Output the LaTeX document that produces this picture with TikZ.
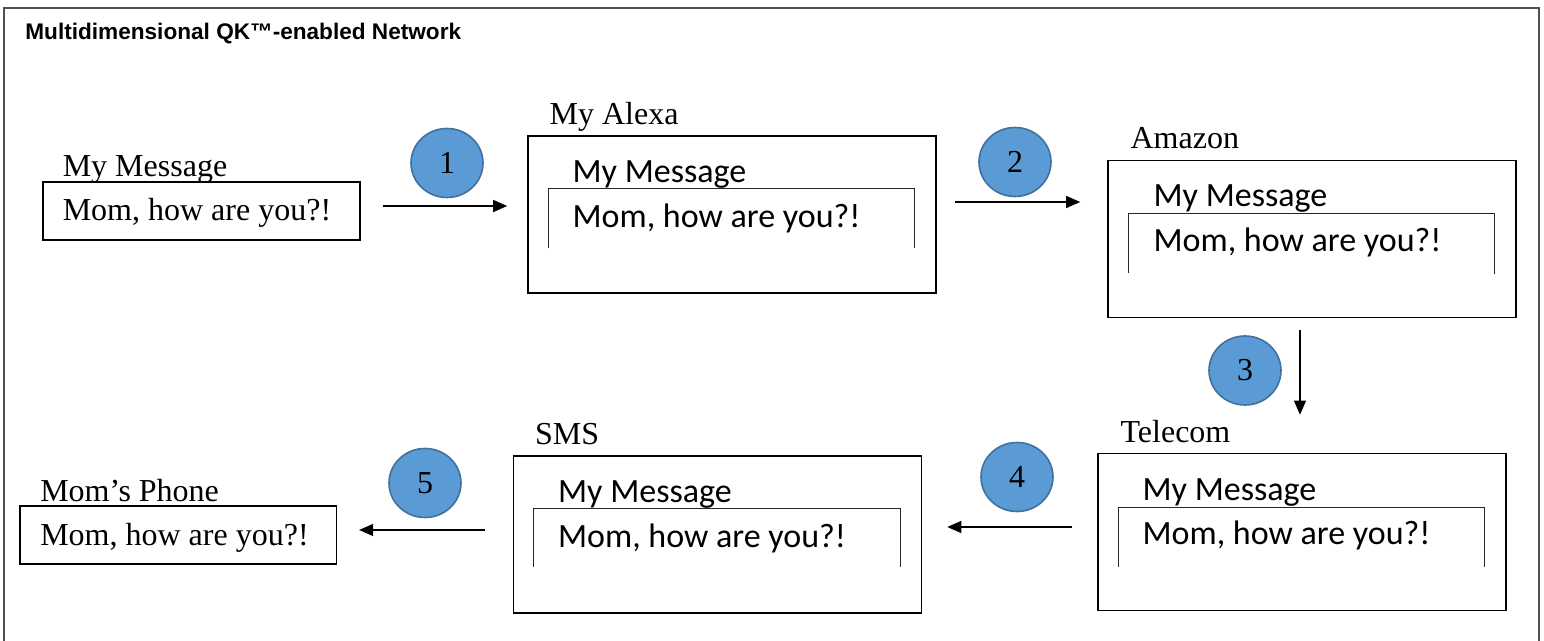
\documentclass[tikz,border=0pt]{standalone}
\usepackage{fontspec}
\setmainfont{Liberation Serif}
\newfontfamily\calibfont{Carlito}
\newfontfamily\headfont{Liberation Sans}
\usetikzlibrary{shapes.geometric, arrows.meta, positioning}
\definecolor{badgefill}{HTML}{5B9BD5}
\definecolor{badgeline}{HTML}{41719C}
\definecolor{framegray}{HTML}{505050}
\tikzset{
  device/.style={rectangle, draw=black, line width=0.8pt, minimum width=204pt, minimum height=78.5pt, inner sep=0pt},
  msgbox/.style={rectangle, draw=black, line width=0.8pt, minimum width=158.3pt, minimum height=29pt, inner sep=0pt},
  tag/.style={anchor=base west, inner sep=0pt, font=\fontsize{16}{19}\selectfont},
  inmsg/.style={anchor=base west, inner sep=0pt, font=\calibfont\fontsize{17}{20}\selectfont},
  pane/.style={draw=black!85, line width=0.6pt},
  badge/.style={ellipse, minimum width=36pt, minimum height=34.5pt, inner sep=0pt, fill=badgefill, draw=badgeline, line width=0.8pt, font=\fontsize{16}{19}\selectfont},
  arrow/.style={line width=0.6pt, -{Triangle[length=7pt,width=6pt]}}
}

\begin{document}
\begin{tikzpicture}[x=0.5pt, y=-0.5pt]
    \useasboundingbox (0,0) rectangle (1544,641);

    % outer frame, open at the bottom
    \draw[framegray, line width=1pt] (4,641) |- (1539,8) -- (1539,641);
    \node (title) [anchor=base west, inner sep=0pt, font=\headfont\bfseries\fontsize{11.3}{13}\selectfont] at (25,40) {Multidimensional QK™-enabled Network};

    % sender and receiver
    \node (msg) [msgbox] at (201.5,211) {};
    \node (msgL) [tag] at ([shift={(20,-5)}]msg.north west) {My Message};
    \node (msgT) [tag] at ([shift={(20,39)}]msg.north west) {Mom, how are you?!};
    \node (phone) [msgbox] at (178,535) {};
    \node (phoneL) [tag] at ([shift={(21,-4)}]phone.north west) {Mom’s Phone};
    \node (phoneT) [tag] at ([shift={(21,40)}]phone.north west) {Mom, how are you?!};

    % relays
    \node (alexa) [device] at (732,214.5) {};
    \node (amazon) [device] at (1312,239) {};
    \node (telecom) [device] at (1302,532) {};
    \node (sms) [device] at (717.5,534.5) {};

    \node (alexaL) [tag] at ([shift={(22,-11)}]alexa.north west) {My Alexa};
    \node (alexaH) [inmsg] at ([shift={(45,47)}]alexa.north west) {My Message};
    \node (alexaT) [inmsg] at ([shift={(45,92)}]alexa.north west) {Mom, how are you?!};
    \draw[pane] ([shift={(21,113)}]alexa.north west) |- ([shift={(-22,53)}]alexa.north east) -- ++(0,60);

    \node (amazonL) [tag] at ([shift={(23,-11)}]amazon.north west) {Amazon};
    \node (amazonH) [inmsg] at ([shift={(46,47)}]amazon.north west) {My Message};
    \node (amazonT) [inmsg] at ([shift={(46,92)}]amazon.north west) {Mom, how are you?!};
    \draw[pane] ([shift={(21,113)}]amazon.north west) |- ([shift={(-22,54)}]amazon.north east) -- ++(0,60);

    \node (telecomL) [tag] at ([shift={(23,-10)}]telecom.north west) {Telecom};
    \node (telecomH) [inmsg] at ([shift={(45,48)}]telecom.north west) {My Message};
    \node (telecomT) [inmsg] at ([shift={(45,92)}]telecom.north west) {Mom, how are you?!};
    \draw[pane] ([shift={(21,114)}]telecom.north west) |- ([shift={(-22,55)}]telecom.north east) -- ++(0,59);

    \node (smsL) [tag] at ([shift={(22,-11)}]sms.north west) {SMS};
    \node (smsH) [inmsg] at ([shift={(45,47)}]sms.north west) {My Message};
    \node (smsT) [inmsg] at ([shift={(45,92)}]sms.north west) {Mom, how are you?!};
    \draw[pane] ([shift={(20.5,112)}]sms.north west) |- ([shift={(-21.5,53)}]sms.north east) -- ++(0,59);

    % numbered hops
    \node (b1) [badge] at (447,163) {1};
    \node (b2) [badge] at (1015,162) {2};
    \node (b3) [badge] at (1245,370.5) {3};
    \node (b4) [badge] at (1017,477) {4};
    \node (b5) [badge] at (425,483) {5};

    % flow
    \draw[arrow] ([xshift=11pt,yshift=2.5pt]msg.east) -- ([xshift=-10pt,yshift=4.25pt]alexa.west);
    \draw[arrow] ([xshift=9pt,yshift=6.25pt]alexa.east) -- ([xshift=-13.5pt,yshift=18.5pt]amazon.west);
    \draw[arrow] ([xshift=-6pt,yshift=-6pt]amazon.south) -- ([xshift=-1pt,yshift=19pt]telecom.north);
    \draw[arrow] ([xshift=-12.5pt,yshift=2.5pt]telecom.west) -- ([xshift=12.5pt,yshift=3.75pt]sms.east);
    \draw[arrow] ([xshift=-14pt,yshift=2.25pt]sms.west) -- ([xshift=11pt,yshift=2.5pt]phone.east);
\end{tikzpicture}
\end{document}
